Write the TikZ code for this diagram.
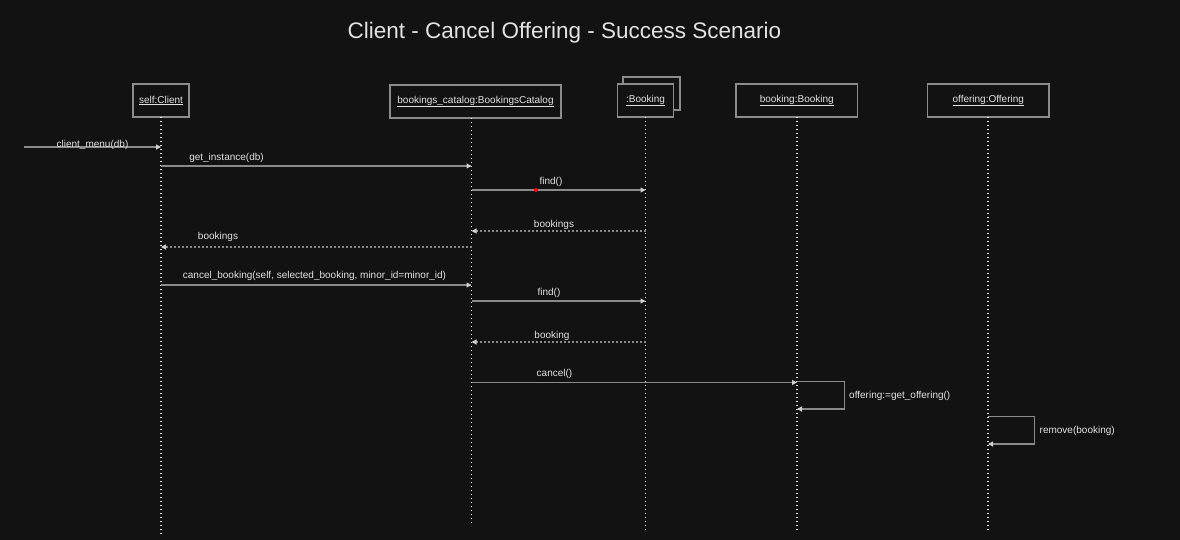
\documentclass[tikz,border=0pt]{standalone}
\usepackage{fontspec}
\setmainfont{Liberation Sans}
\usetikzlibrary{arrows.meta}
\definecolor{bgc}{HTML}{121212}
\definecolor{boxc}{HTML}{8C8C8C}
\definecolor{linec}{HTML}{8A8A8A}
\definecolor{tipc}{HTML}{D0D0D0}
\definecolor{txtc}{HTML}{E2E2E2}
\definecolor{lifec}{HTML}{E8E8E8}
\tikzset{
  objbox/.style={draw=boxc, line width=1.3pt, fill=bgc, inner sep=0pt, text=txtc, font=\fontsize{10}{12}\selectfont},
  lifeline/.style={draw=lifec, line width=1.1pt, dash pattern=on 1.3pt off 2.7pt},
  msg/.style={draw=linec, line width=1.1pt, -{Triangle[length=5pt,width=5pt,color=tipc]}},
  ret/.style={msg, dash pattern=on 2pt off 2pt},
  lbl/.style={inner sep=0pt, text=txtc, font=\fontsize{10}{12}\selectfont},
  ttl/.style={inner sep=0pt, text=txtc, font=\fontsize{22.5}{26}\selectfont},
}
\begin{document}
\begin{tikzpicture}[x=1pt,y=-1pt]
\useasboundingbox (0,0) rectangle (1180,540);
\fill[bgc] (0,0) rectangle (1180,540);

\node[ttl] (title) at (564.5,33) {Client - Cancel Offering - Success Scenario};

% objects
\node[objbox, minimum width=56pt, minimum height=33pt] (client) at (161,100.5) {\underline{self:Client}};
\node[objbox, minimum width=171pt, minimum height=33pt] (catalog) at (475.5,101.5) {\underline{bookings\_catalog:BookingsCatalog}};
\node[objbox, minimum width=57pt, minimum height=33pt] (multiback) at (651.5,93.5) {};
\node[objbox, minimum width=56pt, minimum height=33pt] (multi) at (645.5,100.5) {\underline{:Booking}};
\node[objbox, minimum width=121.5pt, minimum height=33pt] (booking) at (796.75,100.5) {\underline{booking:Booking}};
\node[objbox, minimum width=121.5pt, minimum height=33pt] (offering) at (988.25,100.5) {\underline{offering:Offering}};

% lifeline ends
\coordinate (clientTop) at (161,117);
\coordinate (clientBot) at (161,535);
\coordinate (catTop) at (471.5,118);
\coordinate (catBot) at (471.5,526);
\coordinate (mulTop) at (645.5,117);
\coordinate (mulBot) at (645.5,530);
\coordinate (bkTop) at (797,117);
\coordinate (bkBot) at (797,532);
\coordinate (offTop) at (988,117);
\coordinate (offBot) at (988,531);

\draw[lifeline] (clientTop) -- (clientBot);
\draw[lifeline] (catTop) -- (catBot);
\draw[lifeline] (mulTop) -- (mulBot);
\draw[lifeline] (bkTop) -- (bkBot);
\draw[lifeline] (offTop) -- (offBot);

% message points
\coordinate (start) at (23.5,147);
\coordinate (c1) at (161,147);
\coordinate (c2) at (161,166);  \coordinate (k2) at (471.5,166);
\coordinate (k3) at (471.5,190); \coordinate (m3) at (645.5,190);
\coordinate (m4) at (645.5,231); \coordinate (k4) at (471.5,231);
\coordinate (k5) at (471.5,247); \coordinate (c5) at (161,247);
\coordinate (c6) at (161,285);  \coordinate (k6) at (471.5,285);
\coordinate (k7) at (471.5,301); \coordinate (m7) at (645.5,301);
\coordinate (m8) at (645.5,342); \coordinate (k8) at (471.5,342);
\coordinate (k9) at (471.5,382.5); \coordinate (b9) at (797,382.5);
\coordinate (b10a) at (797,381.5); \coordinate (b10b) at (797,409);
\coordinate (o11a) at (988,416.5); \coordinate (o11b) at (988,444);

\draw[msg] (start) -- (c1);
\node[lbl] at (92.5,144.5) {client\_menu(db)};

\draw[msg] (c2) -- (k2);
\node[lbl] at (226.5,158) {get\_instance(db)};

\draw[msg] (k3) -- (m3);
\node[lbl] at (551,182) {find()};
\fill[red] (536,190) circle (2pt);

\draw[ret] (m4) -- (k4);
\node[lbl] at (554,225) {bookings};

\draw[ret] (k5) -- (c5);
\node[lbl] at (218,236.5) {bookings};

\draw[msg] (c6) -- (k6);
\node[lbl] at (314.5,276) {cancel\_booking(self, selected\_booking, minor\_id=minor\_id)};

\draw[msg] (k7) -- (m7);
\node[lbl] at (549,293) {find()};

\draw[ret] (m8) -- (k8);
\node[lbl] at (552,336) {booking};

\draw[msg] (k9) -- (b9);
\node[lbl] at (554.5,373.5) {cancel()};

\draw[msg] (b10a) -- ++(47.5,0) |- (b10b);
\node[lbl, anchor=west] at (849,396) {offering:=get\_offering()};

\draw[msg] (o11a) -- ++(46.5,0) |- (o11b);
\node[lbl, anchor=west] at (1039.5,431) {remove(booking)};
\end{tikzpicture}
\end{document}
